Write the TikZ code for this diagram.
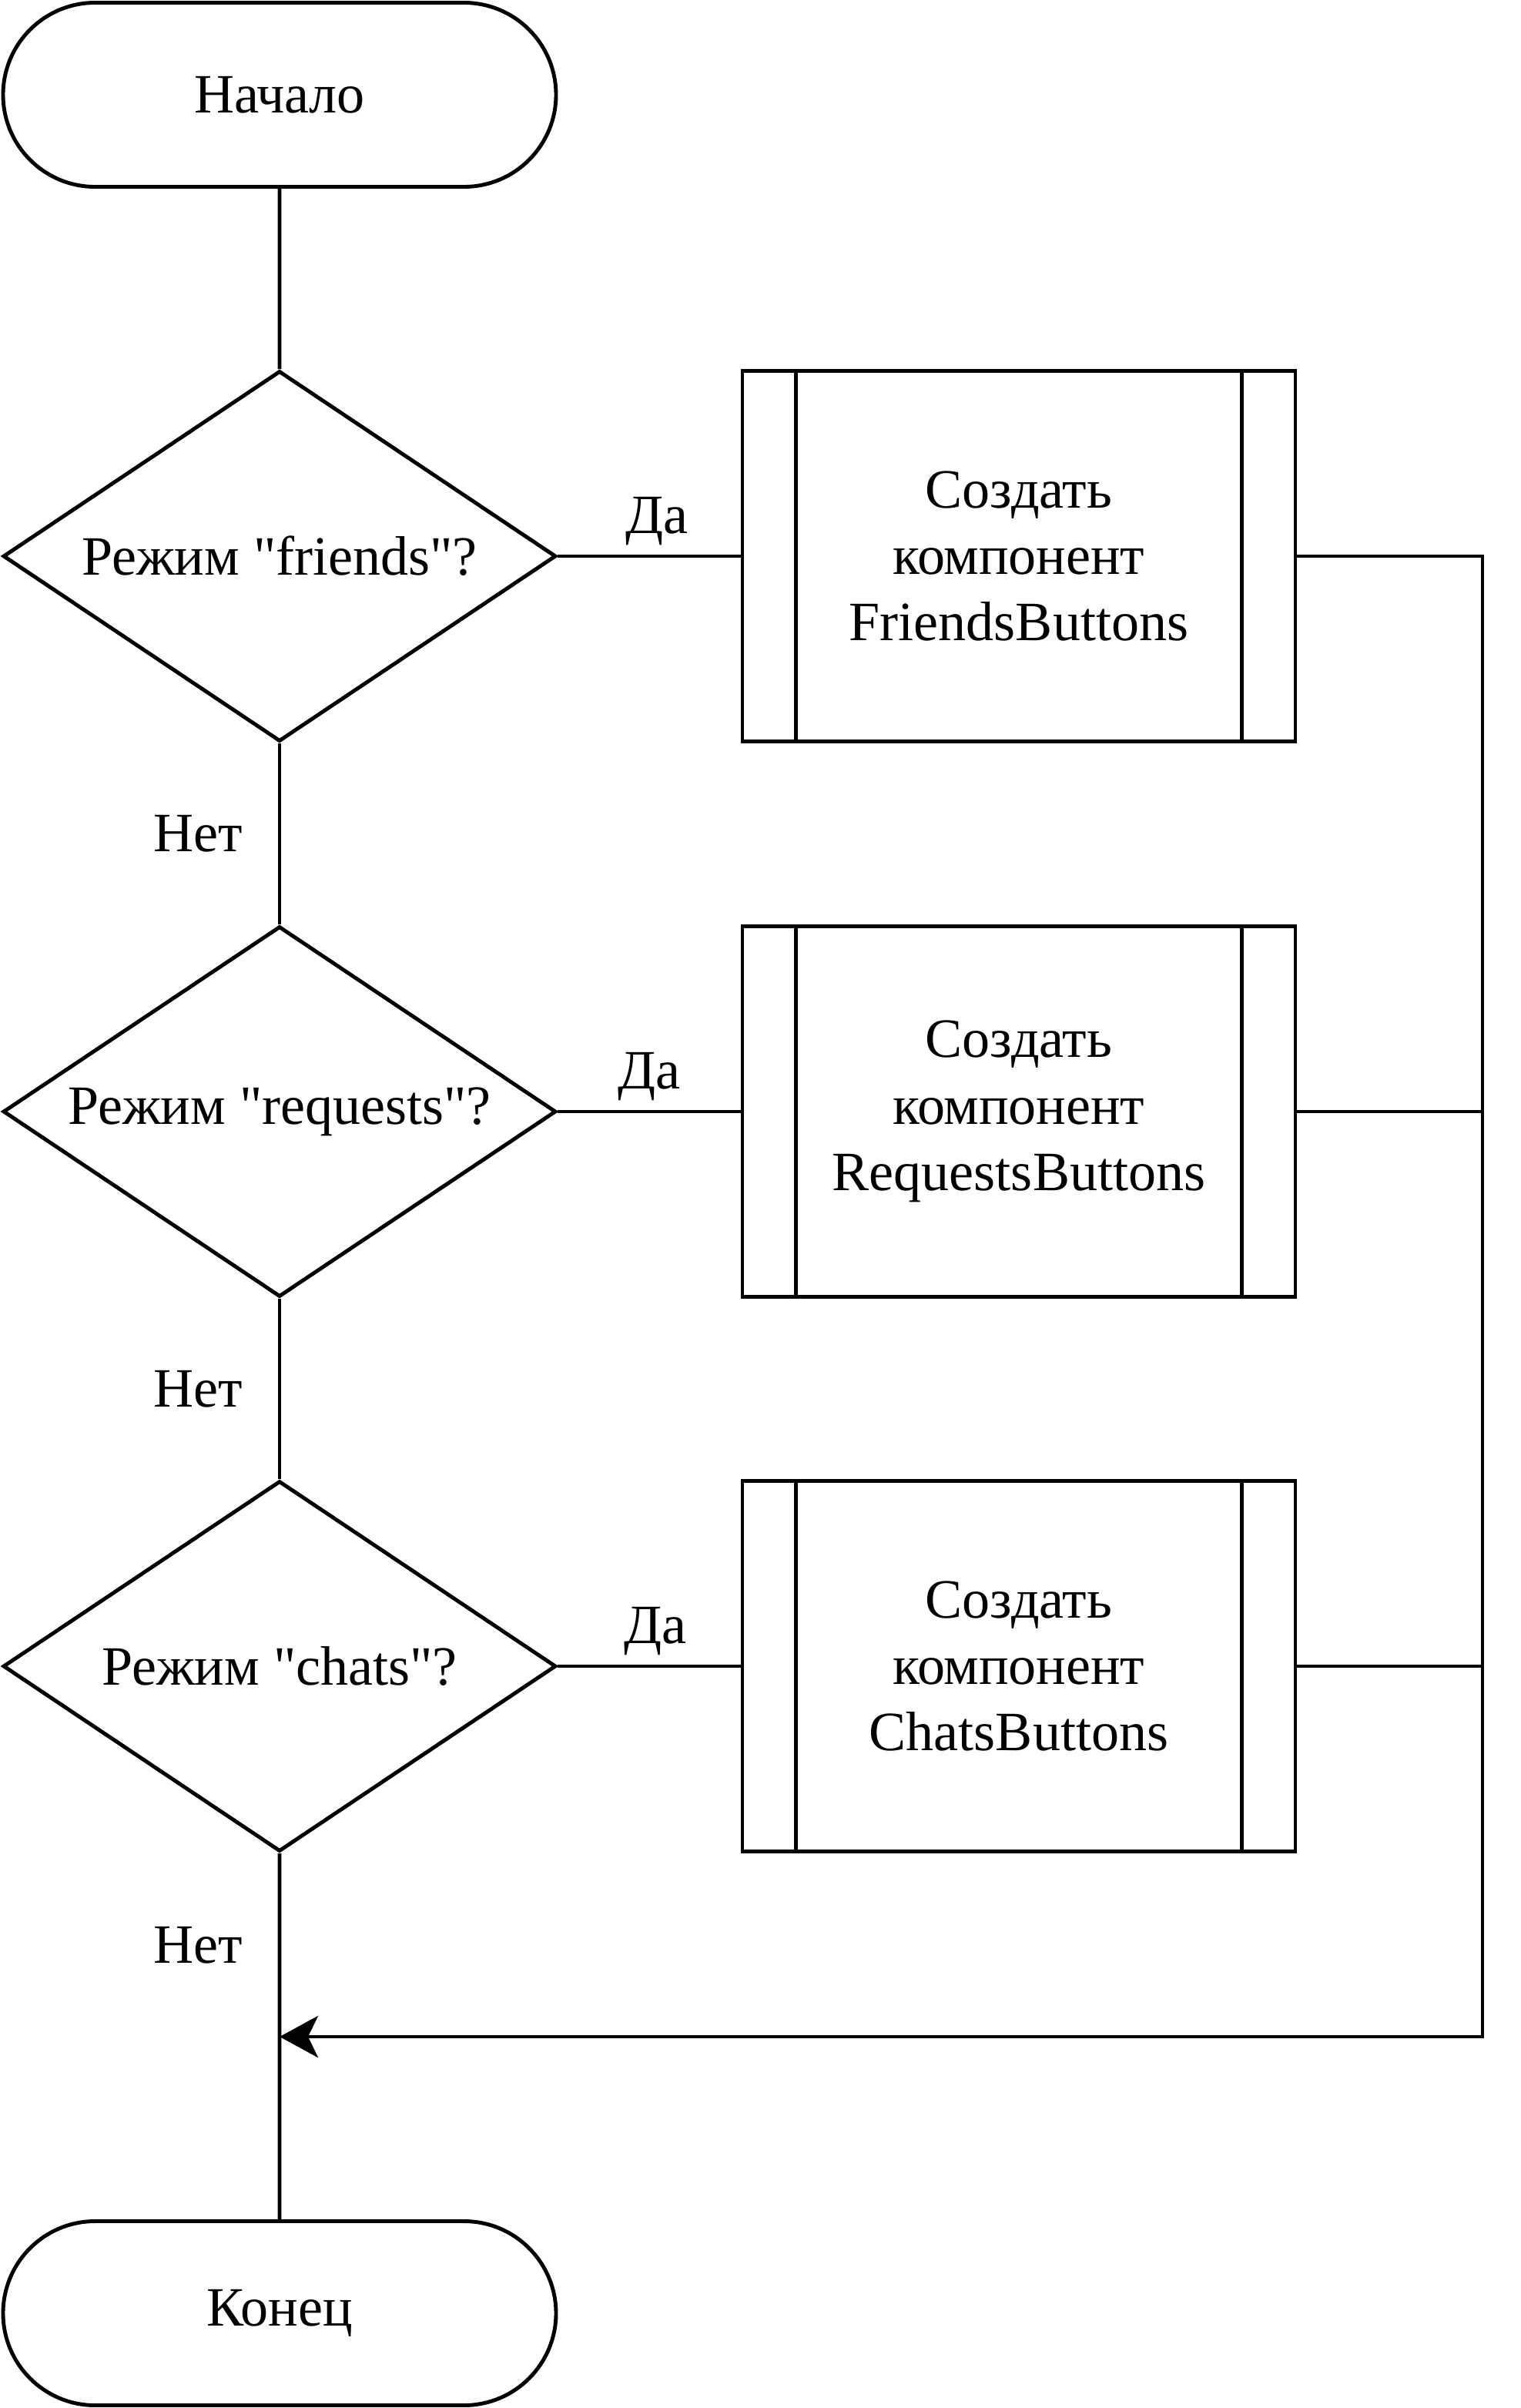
\documentclass[tikz,border=0pt]{standalone}
\usepackage{fontspec}
\setmainfont{Liberation Serif}
\usetikzlibrary{shapes.geometric,shapes.misc,arrows.meta}

\begin{document}
\begin{tikzpicture}[line width=1.4pt,
		font=\fontsize{20.5}{24.6}\selectfont,
		term/.style={draw, rounded rectangle, minimum width=7.18cm, minimum height=2.39cm, inner sep=0pt},
		cond/.style={draw, diamond, aspect=1.5, minimum width=7.18cm, minimum height=4.81cm, inner sep=0pt},
		proc/.style={draw, rectangle, minimum width=7.18cm, minimum height=4.81cm, align=center}]
		\useasboundingbox (0,0) rectangle (19.74,-31.26);
		\node [term] (start) at (3.63,-1.23) {Начало};
		\node [cond] (d1) at (3.63,-7.22) {Режим \textquotedbl friends\textquotedbl?};
		\node [cond] (d2) at (3.63,-14.43) {Режим \textquotedbl requests\textquotedbl?};
		\node [cond] (d3) at (3.63,-21.63) {Режим \textquotedbl chats\textquotedbl?};
		\node [proc] (p1) at (13.23,-7.22) {Создать\\компонент\\FriendsButtons};
		\node [proc] (p2) at (13.23,-14.43) {Создать\\компонент\\RequestsButtons};
		\node [proc] (p3) at (13.23,-21.63) {Создать\\компонент\\ChatsButtons};
		\node [term] (finish) at (3.63,-30.03) {Конец};
		\coordinate (merge) at (19.25,-26.44);
		\coordinate (join) at (3.63,-26.44);
		\foreach \p in {p1,p2,p3} {
			\draw ([xshift=0.72cm]\p.north west) -- ([xshift=0.72cm]\p.south west);
			\draw ([xshift=-0.72cm]\p.north east) -- ([xshift=-0.72cm]\p.south east);
		}
		\draw (start) -- (d1);
		\draw (d1) -- node [above, xshift=0.1cm] {Да} (p1);
		\draw (d2) -- node [above] {Да} (p2);
		\draw (d3) -- node [above, xshift=0.08cm] {Да} (p3);
		\draw (d1) -- node [left=0.34cm] {Нет} (d2);
		\draw (d2) -- node [left=0.34cm] {Нет} (d3);
		\draw (d3) -- node [left=0.34cm] {Нет} (join) -- (finish);
		\draw (p2.east) -- (p2.east -| merge);
		\draw (p3.east) -- (p3.east -| merge);
		\draw [-{Stealth[length=5mm,width=5.4mm,inset=1.3mm]}] (p1.east) -| (merge) -- (join);

	\end{tikzpicture}
\end{document}
